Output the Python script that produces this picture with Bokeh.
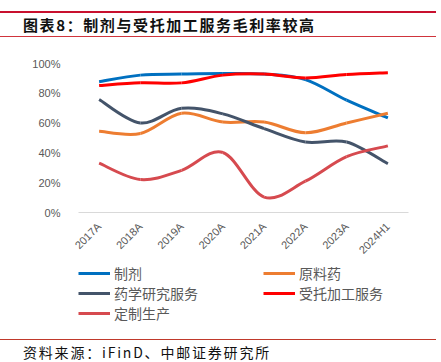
from bokeh.plotting import figure
from bokeh.models import (Range1d, FixedTicker, PrintfTickFormatter, Legend, LegendItem,
                          ColumnDataSource, Div)
from bokeh.layouts import column
from bokeh.embed import file_html
from bokeh.resources import INLINE

categories = ["2017A", "2018A", "2019A", "2020A", "2021A", "2022A", "2023A", "2024H1"]
zhiji = [87.8, 92.2, 92.9, 93.3, 92.9, 89.2, 75.4, 63.5]          # 制剂
yuanliaoyao = [54.5, 53.0, 66.6, 60.7, 60.7, 53.5, 60.1, 66.6]    # 原料药
yaoxue = [75.8, 60.1, 69.9, 66.2, 56.3, 47.3, 47.3, 32.7]         # 药学研究服务
shoutuo = [85.2, 87.0, 87.0, 92.2, 92.9, 90.3, 92.6, 93.8]        # 受托加工服务
dingzhi = [33.1, 22.1, 28.3, 40.3, 10.3, 21.0, 37.5, 44.7]        # 定制生产
y_ticks = [0, 20, 40, 60, 80, 100]

series = [
    ("制剂", zhiji, "#0070c0"),
    ("原料药", yuanliaoyao, "#ed7d31"),
    ("药学研究服务", yaoxue, "#44546a"),
    ("受托加工服务", shoutuo, "#ff0000"),
    ("定制生产", dingzhi, "#d64a4f"),
]

FONT = "Noto Sans CJK SC"
W = 441
LINE_W = 436

p = figure(width=W, height=223, output_backend="svg", toolbar_location=None,
           x_range=Range1d(-0.5, len(categories) - 0.5), y_range=Range1d(0, 100),
           min_border_left=78, min_border_right=33, min_border_top=23, min_border_bottom=48,
           margin=(0, 0, 0, 0))
p.outline_line_color = None
p.xgrid.grid_line_color = None
p.ygrid.grid_line_color = None
p.background_fill_color = None
p.border_fill_color = None

xs = list(range(len(categories)))

def bezier_source(ys):
    n = len(ys)
    d = dict(x0=[], y0=[], x1=[], y1=[], cx0=[], cy0=[], cx1=[], cy1=[])
    for i in range(n - 1):
        ip = max(i - 1, 0)
        iq = min(i + 2, n - 1)
        d["x0"].append(xs[i]); d["y0"].append(ys[i])
        d["x1"].append(xs[i + 1]); d["y1"].append(ys[i + 1])
        d["cx0"].append(xs[i] + (xs[i + 1] - xs[ip]) / 6)
        d["cy0"].append(ys[i] + (ys[i + 1] - ys[ip]) / 6)
        d["cx1"].append(xs[i + 1] - (xs[iq] - xs[i]) / 6)
        d["cy1"].append(ys[i + 1] - (ys[iq] - ys[i]) / 6)
    return ColumnDataSource(d)

bz = dict(x0="x0", y0="y0", x1="x1", y1="y1", cx0="cx0", cy0="cy0", cx1="cx1", cy1="cy1")
sources = {}
for name, ys, color in series:
    sources[name] = bezier_source(ys)
    p.bezier(source=sources[name], line_color=color, line_width=3, **bz)

# axes
p.xaxis.ticker = FixedTicker(ticks=xs)
p.xaxis.major_label_overrides = {i: c for i, c in enumerate(categories)}
p.xaxis.major_label_orientation = 0.785398
p.xaxis.axis_line_color = "#d9d9d9"
p.xaxis.axis_line_width = 1
p.xaxis.major_tick_line_color = None
p.xaxis.minor_tick_line_color = None
p.xaxis.major_label_standoff = 6
p.xaxis.major_label_text_font = "Liberation Sans"
p.xaxis.major_label_text_font_size = "11px"
p.xaxis.major_label_text_color = "#595959"

p.yaxis.ticker = FixedTicker(ticks=y_ticks)
p.yaxis.formatter = PrintfTickFormatter(format="%d%%")
p.yaxis.axis_line_color = None
p.yaxis.major_tick_line_color = None
p.yaxis.minor_tick_line_color = None
p.yaxis.major_label_standoff = 12
p.yaxis.major_label_text_font = "Liberation Sans"
p.yaxis.major_label_text_font_size = "11px"
p.yaxis.major_label_text_color = "#595959"

# legend figure (same series sources, drawn outside its visible range; only the legend shows)
lg = figure(width=W, height=67, output_backend="svg", toolbar_location=None,
            x_range=Range1d(100, 101), y_range=Range1d(100, 101),
            min_border_left=78, min_border_right=0, min_border_top=0, min_border_bottom=0,
            margin=(0, 0, 0, 0))
lg.axis.visible = False
lg.grid.visible = False
lg.outline_line_color = None
lg.background_fill_color = None
lg.border_fill_color = None
lg_items = {}
for name, ys, color in series:
    lg_items[name] = lg.bezier(source=sources[name], line_color=color, line_width=3, **bz)

order = ["制剂", "原料药", "药学研究服务", "受托加工服务", "定制生产"]
legend = Legend(items=[LegendItem(label=n, renderers=[lg_items[n]], index=0) for n in order],
                orientation="horizontal", ncols=2, location="top_left",
                glyph_width=32, glyph_height=14, label_height=14, label_width=149,
                label_standoff=4, spacing=0, padding=0, margin=0, border_line_color=None,
                background_fill_alpha=0, label_text_font=FONT, label_text_font_size="14px",
                label_text_color="#595959")
lg.add_layout(legend, "center")

title = Div(width=W, height=40, margin=(0, 0, 0, 0), text=(
    f'<div style="position:relative;width:{W}px;height:40px;">'
    f'<div style="position:absolute;left:0;top:11px;width:{LINE_W}px;height:2px;background:#c8102e;"></div>'
    f'<div style="position:absolute;left:23px;top:16px;white-space:nowrap;font-family:\'{FONT}\';'
    'font-weight:bold;font-size:15px;line-height:18px;letter-spacing:1.6px;color:#111;">'
    '图表8：制剂与受托加工服务毛利率较高</div>'
    f'<div style="position:absolute;left:0;top:36px;width:{LINE_W}px;height:1px;background:#d0343c;"></div>'
    '</div>'))

source = Div(width=W, height=32, margin=(0, 0, 0, 0), text=(
    f'<div style="position:relative;width:{W}px;height:32px;">'
    f'<div style="position:absolute;left:0;top:9px;width:{LINE_W}px;height:1px;background:#c0392b;"></div>'
    f'<div style="position:absolute;left:23px;top:14px;white-space:nowrap;font-family:\'{FONT}\';'
    'font-size:14px;line-height:16px;letter-spacing:1.8px;color:#111;">'
    '资料来源：iFinD、中邮证券研究所</div>'
    '</div>'))

layout = column(title, p, lg, source, spacing=0)
open("out.html", "w").write(file_html(layout, INLINE))
